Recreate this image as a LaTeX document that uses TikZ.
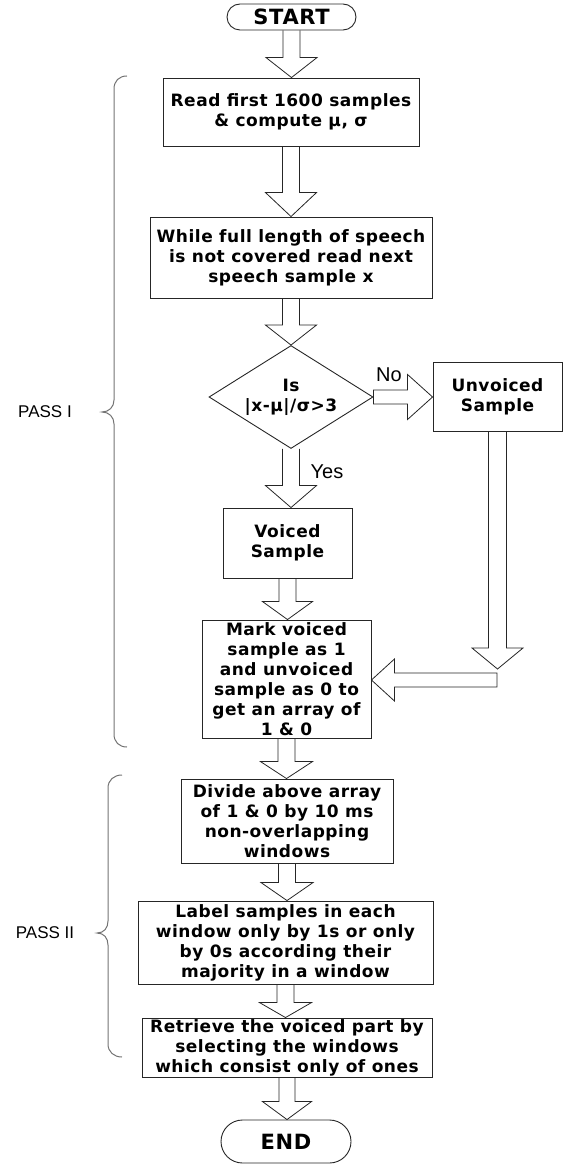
\documentclass[tikz,border=0pt]{standalone}
\usepackage{fontspec}
\setmainfont{DejaVu Sans}
\newfontfamily\boxfont[LetterSpace=3]{DejaVu Sans Bold}
\newfontfamily\arialf{Liberation Sans}
\usetikzlibrary{shapes.geometric,shapes.misc,calc}

\tikzset{
  box/.style={draw=black!85, line width=0.9pt, align=center, inner sep=0pt,
              font=\boxfont\fontsize{17}{20}\selectfont, text=black},
  term/.style={box, rounded rectangle, font=\boxfont\fontsize{21}{22}\selectfont},
  dia/.style={draw=black!85, line width=0.9pt, diamond, inner sep=0pt},
  txt/.style={align=center, inner sep=0pt, font=\boxfont\fontsize{17}{20}\selectfont},
  blk/.style={draw=black!85, line width=0.8pt, line join=miter},
  brc/.style={draw=black!55, line width=1pt},
  pass/.style={font=\arialf\fontsize{17}{19}\selectfont},
  yn/.style={font=\arialf\fontsize{20}{22}\selectfont}
}

\newcommand{\bdown}[5]{\draw[blk] let \p1=(#1),\p2=(#2) in
  (\x1-#3pt,\y1) -- (\x1-#3pt,\y2+#5pt) -- (\x1-#4pt,\y2+#5pt) -- (\x1,\y2)
  -- (\x1+#4pt,\y2+#5pt) -- (\x1+#3pt,\y2+#5pt) -- (\x1+#3pt,\y1);}
\newcommand{\bleftc}[5]{\draw[blk] let \p1=(#1),\p2=(#2) in
  (\x1,\y1-#3pt) -- (\x2+#5pt,\y1-#3pt) -- (\x2+#5pt,\y1-#4pt) -- (\x2,\y1)
  -- (\x2+#5pt,\y1+#4pt) -- (\x2+#5pt,\y1+#3pt) -- (\x1,\y1+#3pt) -- cycle;}
\newcommand{\brightc}[5]{\draw[blk] let \p1=(#1),\p2=(#2) in
  (\x1,\y1-#3pt) -- (\x2-#5pt,\y1-#3pt) -- (\x2-#5pt,\y1-#4pt) -- (\x2,\y1)
  -- (\x2-#5pt,\y1+#4pt) -- (\x2-#5pt,\y1+#3pt) -- (\x1,\y1+#3pt) -- cycle;}

\begin{document}
\begin{tikzpicture}[x=1pt,y=-1pt]
\useasboundingbox (0,0) rectangle (565,1166);

% nodes
\node[term, minimum width=129pt, minimum height=26pt] (start) at (291.5,17) {START};
\node[box, minimum width=256pt, minimum height=68pt] (read) at (291,112)
  {Read first 1600 samples\\\& compute μ, σ};
\node[box, minimum width=282pt, minimum height=81pt] (while) at (291,257.5)
  {While full length of speech\\is not covered read next\\speech sample x};
\node[dia, minimum width=164pt, minimum height=103pt] (dec) at (291,397) {};
\node[txt] (dect) at (dec) {Is\\|x-μ|/σ>3};
\node[box, minimum width=129pt, minimum height=69pt] (unv) at (497.5,396.5) {Unvoiced\\Sample};
\node[box, minimum width=129pt, minimum height=70pt] (voi) at (287.5,543) {Voiced\\Sample};
\node[box, minimum width=169pt, minimum height=118pt] (mark) at (286.5,679)
  {Mark voiced\\sample as 1\\and unvoiced\\sample as 0 to\\get an array of\\1 \& 0};
\node[box, minimum width=212pt, minimum height=84pt] (div) at (287,821)
  {Divide above array\\of 1 \& 0 by 10 ms\\non-overlapping\\windows};
\node[box, minimum width=295pt, minimum height=83pt] (lab) at (285.5,942.5)
  {Label samples in  each\\window only by 1s or only\\by 0s according their\\majority in a window};
\node[box, minimum width=290pt, minimum height=59pt] (ret) at (287,1047.5)
  {Retrieve the voiced part by\\selecting the windows\\which consist only of ones};
\node[term, minimum width=130pt, minimum height=43pt] (endn) at (286,1141.5) {END};

% block arrows
\bdown{start.south}{read.north}{8.5}{25.5}{20}
\bdown{read.south}{while.north}{8.5}{25.5}{24}
\bdown{while.south}{dec.north}{8.5}{25.5}{20}
\bdown{dec.south}{voi.north}{8.5}{25.5}{22}
\bdown{voi.south}{mark.north}{8.5}{25}{18}
\bdown{mark.south}{div.north}{8.5}{26}{17}
\bdown{div.south}{lab.north}{8.5}{26}{18}
\bdown{lab.south}{ret.north}{8.5}{26}{15}
\bdown{ret.south}{endn.north}{8}{24.5}{18}
\coordinate (turn) at (497,669);
\coordinate (turn2) at (497,680);
\bdown{unv.south}{turn}{9}{25.5}{21}
\bleftc{turn2}{mark.east}{7}{21}{23}
\brightc{dec.east}{unv.west}{7}{22.5}{25}

% labels
\node[yn] (nolbl) at (389,375) {No};
\node[yn] (yeslbl) at (327,472) {Yes};
\node[pass] (p1) at (45,412) {PASS I};
\node[pass] (p2) at (45,933) {PASS II};

% braces
\draw[brc] (127,76) .. controls (119,76) and (114,81) .. (114,89) -- (114,400)
  .. controls (114,407) and (109,412) .. (102,412)
  .. controls (109,412) and (114,417) .. (114,424) -- (114,734)
  .. controls (114,742) and (119,747) .. (127,747);
\draw[brc] (122,775) .. controls (114,775) and (108,780) .. (108,788) -- (108,921)
  .. controls (108,928) and (104,933) .. (97,933)
  .. controls (104,933) and (108,938) .. (108,945) -- (108,1044)
  .. controls (108,1052) and (114,1057) .. (122,1057);
\end{tikzpicture}
\end{document}
